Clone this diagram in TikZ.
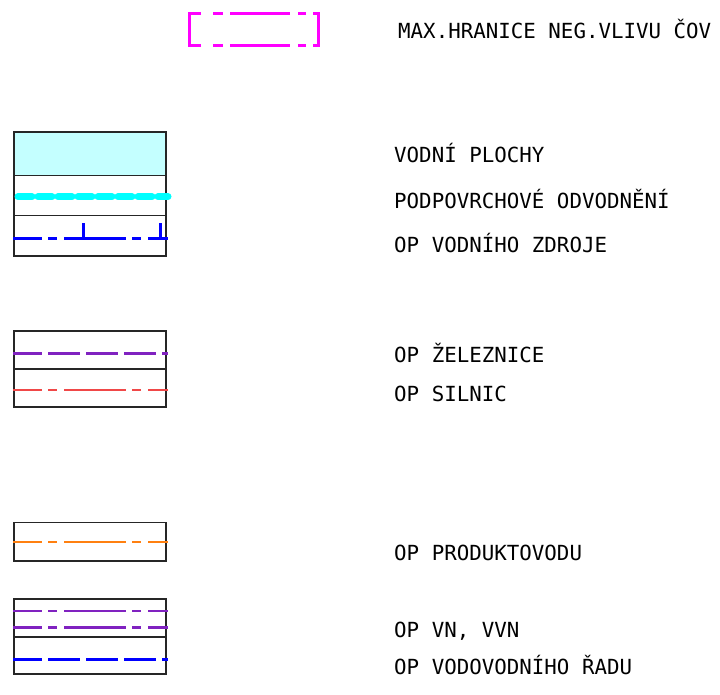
\documentclass[tikz,border=0pt]{standalone}
\usepackage{fontspec}
\setmonofont{DejaVu Sans Mono}
\usetikzlibrary{positioning}
\definecolor{limit}{HTML}{FF00FF}
\definecolor{water}{HTML}{C4FFFF}
\definecolor{drain}{HTML}{00FFFF}
\definecolor{source}{HTML}{0000FF}
\definecolor{rail}{HTML}{8022C0}
\definecolor{road}{HTML}{F04848}
\definecolor{pipe}{HTML}{FF8010}

\begin{document}
\begin{tikzpicture}[
    x=1pt, y=-1pt,
    legendtext/.style={
        anchor=base west,
        inner sep=0pt,
        font=\ttfamily\fontsize{20.8}{24}\selectfont
    },
    cell/.style={draw=black!85, line width=1.6pt},
    dashdot/.style={dash pattern=on 62pt off 6pt on 9pt off 7pt, dash phase=33pt},
    longdash/.style={dash pattern=on 32pt off 6pt, dash phase=3pt},
    limitline/.style={draw=limit, line width=3pt}
]
\useasboundingbox (0,0) rectangle (720,695);

% max. hranice
\draw[limitline] (201,14) -| (189,46) -- (201,46);
\draw[limitline] (313,14) -| (318,46) -- (313,46);
\draw[limitline, dash pattern=on 10pt off 7pt on 60pt off 8pt on 8pt off 100pt] (213,14) -- (306,14);
\draw[limitline, dash pattern=on 10pt off 7pt on 60pt off 8pt on 8pt off 100pt] (213,46) -- (306,46);
\node[legendtext] (maxtxt) at (398,38.5) {MAX.HRANICE NEG.VLIVU ČOV};

% vodni plochy
\fill[water] (14,132) rectangle (166,175.5);
\draw[cell] (14,132) rectangle (166,256);
\draw[cell] (14,175.5) -- (166,175.5);
\draw[cell] (14,215.7) -- (166,215.7);
\draw[drain, line width=7pt, line cap=round, dash pattern=on 14pt off 6pt] (18,196.7) -- (168,196.7);
\draw[source, line width=3pt, dashdot] (13,238.3) -- (168,238.3);
\draw[source, line width=3pt] (83,238.3) -- (83,223);
\draw[source, line width=3pt] (160,238.3) -- (160,223);
\node[legendtext] (vodtxt) at (394,163) {VODNÍ PLOCHY};
\node[legendtext] (podtxt) at (394,208) {PODPOVRCHOVÉ ODVODNĚNÍ};
\node[legendtext] (zdrtxt) at (394,252) {OP VODNÍHO ZDROJE};

% zeleznice, silnice
\draw[cell] (14,331) rectangle (166,406.7);
\draw[cell] (14,369) -- (166,369);
\draw[rail, line width=2.5pt, longdash] (13,353.3) -- (168,353.3);
\draw[road, line width=1.5pt, dashdot] (13,390) -- (168,390);
\node[legendtext] (zeltxt) at (394,362) {OP ŽELEZNICE};
\node[legendtext] (siltxt) at (394,401) {OP SILNIC};

% produktovod
\draw[cell] (14,522.3) rectangle (166,561);
\draw[pipe, line width=2pt, dashdot] (13,542.3) -- (168,542.3);
\node[legendtext] (prodtxt) at (394,560) {OP PRODUKTOVODU};

% vn, vodovod
\draw[cell] (14,599) rectangle (166,674);
\draw[cell] (14,637) -- (166,637);
\draw[rail, line width=2.5pt, dashdot] (13,611) -- (168,611);
\draw[rail, line width=2.5pt, dashdot] (13,627.7) -- (168,627.7);
\draw[source, line width=3pt, longdash] (13,659.3) -- (168,659.3);
\node[legendtext] (vntxt) at (394,637) {OP VN, VVN};
\node[legendtext] (vodovtxt) at (394,674) {OP VODOVODNÍHO ŘADU};

\end{tikzpicture}
\end{document}
